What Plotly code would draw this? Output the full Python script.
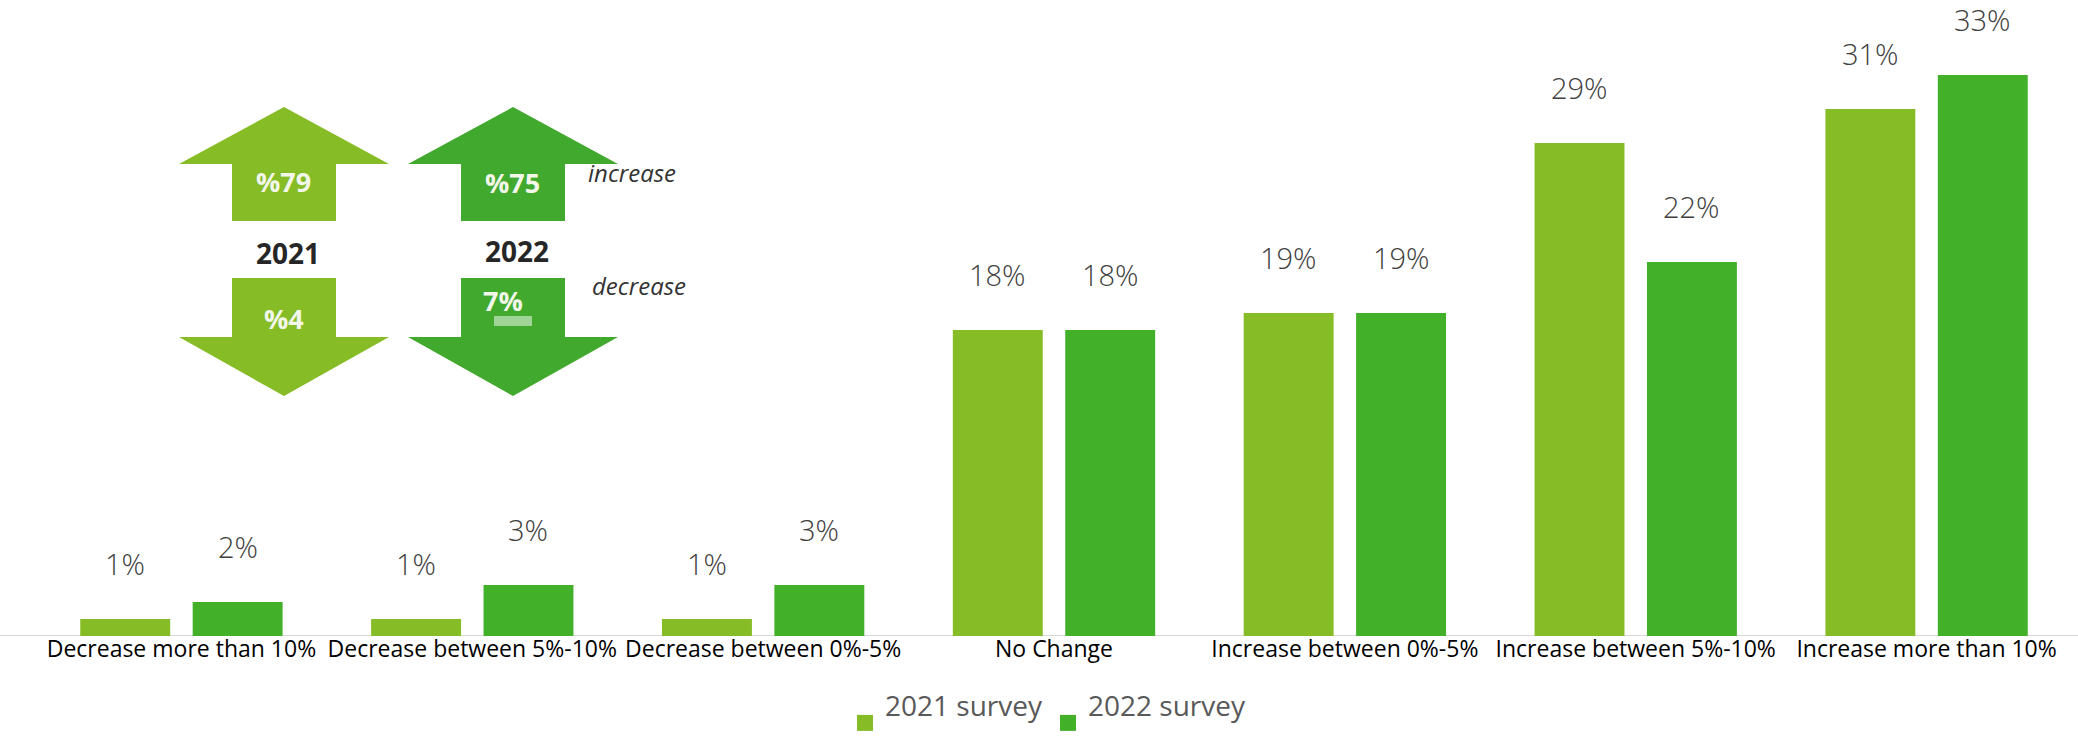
import plotly.graph_objects as go

# ---- data -------------------------------------------------------------
categories = [
    "Decrease more than 10%",
    "Decrease between 5%-10%",
    "Decrease between 0%-5%",
    "No Change",
    "Increase between 0%-5%",
    "Increase between 5%-10%",
    "Increase more than 10%",
]
survey_2021 = [1, 1, 1, 18, 19, 29, 31]
survey_2022 = [2, 3, 3, 18, 19, 22, 33]
series_names = ["2021 survey", "2022 survey"]

# summary panel (share expecting an increase / a decrease)
summary_years = ["2021", "2022"]
summary_increase = ["%79", "%75"]
summary_decrease = ["%4", "7%"]

# ---- styling / layout constants --------------------------------------
C21 = "#86BC25"
C22 = "#43B02A"
ARROW_COLORS = ["#86BC25", "#41A92D"]
W, H = 2078, 741
ML, MR, MT, MB = 36, 6, 0, 105
PW, PH = W - ML - MR, H - MT - MB
PX_PER_UNIT = 17.0
YMAX = PH / PX_PER_UNIT


def px(x):
    """pixel x -> paper x"""
    return (x - ML) / PW


def py(y):
    """pixel y -> paper y"""
    return (MT + PH - y) / PH


fig = go.Figure()
for name, vals, col in [(series_names[0], survey_2021, C21),
                        (series_names[1], survey_2022, C22)]:
    fig.add_trace(go.Bar(x=categories, y=vals, name=name, marker_color=col,
                         marker_line_width=0, showlegend=False))

# legend entries (square swatches)
for name, col in [(series_names[0], C21), (series_names[1], C22)]:
    fig.add_trace(go.Scatter(x=[None], y=[None], mode="markers", name=name + "<br>\u00a0",
                             marker=dict(symbol="square", size=18, color=col)))

annotations = []
# value labels above each bar
SLOT = (1 - 0.227) * (PW / len(categories)) / 2
for cat, v1, v2 in zip(categories, survey_2021, survey_2022):
    for v, sh in [(v1, -SLOT / 2), (v2, SLOT / 2)]:
        annotations.append(dict(
            x=cat, y=v, xref="x", yref="y", text=f"{v}%", showarrow=False,
            xshift=sh, yshift=56, xanchor="center", yanchor="middle",
            font=dict(family="Open Sans", size=29, color="#404040", weight=300)))

# summary arrows
shapes = []
centers = [284, 513]
HALF_HEAD, HALF_SHAFT = 105, 52
for cx, col in zip(centers, ARROW_COLORS):
    up = [(cx, 107), (cx + HALF_HEAD, 164), (cx + HALF_SHAFT, 164), (cx + HALF_SHAFT, 221),
          (cx - HALF_SHAFT, 221), (cx - HALF_SHAFT, 164), (cx - HALF_HEAD, 164)]
    dn = [(cx - HALF_SHAFT, 278), (cx + HALF_SHAFT, 278), (cx + HALF_SHAFT, 337),
          (cx + HALF_HEAD, 337), (cx, 396), (cx - HALF_HEAD, 337), (cx - HALF_SHAFT, 337)]
    for pts in (up, dn):
        path = "M " + " L ".join(f"{px(x):.5f},{py(y):.5f}" for x, y in pts) + " Z"
        shapes.append(dict(type="path", xref="paper", yref="paper", path=path,
                           fillcolor=col, line=dict(width=0), layer="above"))

# faint smudge under the 2022 decrease figure
shapes.append(dict(type="rect", xref="paper", yref="paper",
                   x0=px(494), x1=px(532), y0=py(326), y1=py(316),
                   fillcolor="rgba(255,255,255,0.5)", line=dict(width=0), layer="above"))


def label(x, y, text, size, color, style="normal"):
    return dict(x=px(x), y=py(y), xref="paper", yref="paper", text=text, showarrow=False,
                xanchor="center", yanchor="middle",
                font=dict(family="Open Sans", size=size, color=color, style=style))


inc_pos = [(283, 181), (512, 182)]
dec_pos = [(284, 318), (503, 300)]
year_pos = [(288, 253), (517, 251)]
for i in range(2):
    annotations.append(label(*inc_pos[i], f"<b>{summary_increase[i]}</b>", 27, "#F2F7EA"))
    annotations.append(label(*dec_pos[i], f"<b>{summary_decrease[i]}</b>", 27, "#F2F7EA"))
    annotations.append(label(*year_pos[i], f"<b>{summary_years[i]}</b>", 28, "#262626"))

annotations.append(label(632, 172, "increase", 24, "#333333", "italic"))
annotations.append(label(639, 285, "decrease", 24, "#333333", "italic"))

# baseline
shapes.append(dict(type="line", xref="paper", yref="y", x0=-ML / PW, x1=1 + MR / PW, y0=0, y1=0,
                   line=dict(color="#D9D9D9", width=2), layer="below"))

fig.update_layout(
    width=W, height=H,
    margin=dict(l=ML, r=MR, t=MT, b=MB, pad=0, autoexpand=False),
    paper_bgcolor="white", plot_bgcolor="white",
    barmode="group", bargap=0.227, bargroupgap=0.2,
    xaxis=dict(showline=False, showgrid=False, ticks="", zeroline=False, automargin=False,
               ticklabelstandoff=-3,
               tickfont=dict(family="Open Sans", size=23, color="#000000")),
    yaxis=dict(visible=False, range=[0, YMAX], showgrid=False, zeroline=False),
    legend=dict(orientation="h", xanchor="left", yanchor="top", x=px(845), y=py(680),
                font=dict(family="Open Sans", size=28, color="#595959"), valign="middle",
                bgcolor="rgba(0,0,0,0)"),
    annotations=annotations,
    shapes=shapes,
    showlegend=True,
)

fig.write_html("out.html")
